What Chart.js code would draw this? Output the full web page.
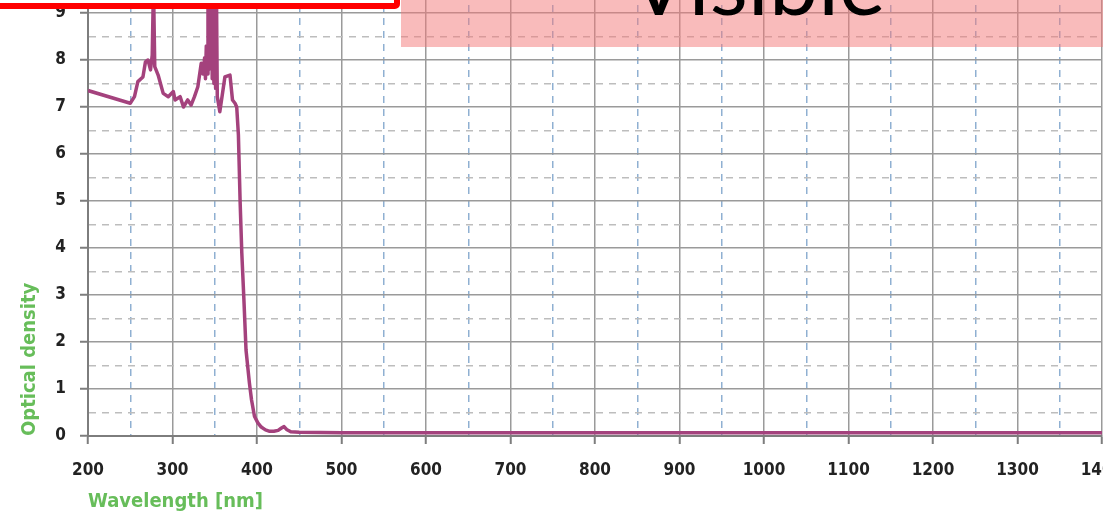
<!DOCTYPE html>
<html lang="en">
  <head>
    <meta charset="utf-8" />
    <title>Optical density</title>
    <style>
      body { margin: 0; width: 1103px; height: 517px; overflow: hidden; position: relative; background: #fff; }
      .chartBox { position: absolute; left: 0; top: -60px; width: 1160px; height: 576px; }
      .redBox { position: absolute; left: -20px; top: -100px; width: 420px; height: 109px; box-sizing: border-box;
        border: 6px solid #ff0000; border-radius: 5px; background: #fff; }
      .pinkBox { position: absolute; left: 401px; top: -10px; width: 720px; height: 57px; background: rgba(243, 119, 119, 0.5); }
      .visible { position: absolute; left: 629px; top: -63px; font: 88px/88px Lato, sans-serif; color: #000; white-space: nowrap; }
    </style>
  </head>
  <body>
    <div class="chartBox">
      <canvas id="myChart"></canvas>
    </div>
    <div class="redBox"></div>
    <div class="pinkBox"></div>
    <div class="visible">Visible</div>
    <script src="https://cdn.jsdelivr.net/npm/chart.js"></script>
    <script>
      // values
      const wavelength = [
        200, 250, 255, 259, 265, 268, 271, 274, 276, 277.5, 279, 283, 289, 295, 301, 303, 309, 313, 318, 322, 326, 330, 334,
        336, 338, 339, 340, 341, 342, 343, 344, 345, 346, 347, 348, 349, 350, 351, 352, 353, 356, 362, 368, 371, 374, 376,
        378, 380, 382, 384.5, 387, 391, 393.5, 397, 401, 405, 410, 415, 420, 425, 429, 432, 435, 440, 450, 500, 600, 700,
        800, 900, 1000, 1100, 1200, 1300, 1400,
      ];
      const opticalDensity = [
        7.35, 7.08, 7.22, 7.54, 7.64, 7.96, 8.0, 7.79, 8.1, 9.6, 7.86, 7.68, 7.29, 7.22, 7.33, 7.15, 7.22, 7.0, 7.15, 7.04, 7.22, 7.43, 7.93,
        7.7, 8.05, 7.6, 8.3, 7.7, 9.6, 7.8, 10, 7.9, 10, 7.6, 10, 7.5, 10, 7.4, 9.5, 7.22, 6.9, 7.64, 7.68, 7.15, 7.08, 7.0,
        6.4, 5.0, 3.9, 2.9, 1.83, 1.13, 0.77, 0.42, 0.28, 0.19, 0.13, 0.1, 0.1, 0.12, 0.17, 0.2, 0.14, 0.09, 0.08, 0.07, 0.07, 0.07,
        0.07, 0.07, 0.07, 0.07, 0.07, 0.07, 0.07,
      ];
      const xMin = 200, xMax = 1400;
      const yMin = 0, yMax = 10;
      const xTitle = "Wavelength [nm]";
      const yTitle = "Optical density";

      const points = wavelength.map((w, i) => ({ x: w, y: opticalDensity[i] }));

      const tickFont = { family: "'DejaVu Sans Condensed', 'Liberation Sans Narrow', sans-serif", size: 17, weight: "bold" };
      const titleFont = { family: "'DejaVu Sans Condensed', 'Liberation Sans Narrow', sans-serif", size: 20, weight: "bold" };
      const green = "#67bd5a";
      const solid = "#9a9a9a";
      const axisCol = "#7d7d7d";

      const isMajorX = (v) => v % 100 === 0;
      const isMajorY = (v) => Number.isInteger(v);

      const config = {
        type: "line",
        data: {
          datasets: [
            {
              data: points,
              borderColor: "#a4427d",
              borderWidth: 3.5,
              pointRadius: 0,
              tension: 0,
              borderJoinStyle: "round",
            },
          ],
        },
        options: {
          responsive: true,
          maintainAspectRatio: false,
          animation: false,
          layout: { padding: { left: 0, right: 58, top: 26, bottom: 0 } },
          plugins: { legend: { display: false }, tooltip: { enabled: false } },
          scales: {
            x: {
              type: "linear",
              min: xMin,
              max: xMax,
              afterFit: (s) => { s.height = 80; },
              ticks: {
                stepSize: 50,
                autoSkip: false,
                maxRotation: 0,
                padding: 16,
                color: "#222",
                font: tickFont,
                callback: (v) => (isMajorX(v) ? String(v) : ""),
              },
              grid: {
                color: (c) => (c.tick && !isMajorX(c.tick.value) ? "#8fb0d2" : solid),
                lineWidth: 1.5,
                tickLength: 8,
                tickColor: (c) => (c.tick && isMajorX(c.tick.value) ? axisCol : "rgba(0,0,0,0)"),
                tickWidth: 2,
              },
              border: {
                color: axisCol,
                width: 2,
                dash: (c) => (c.tick && !isMajorX(c.tick.value) ? [7, 6] : []),
              },
              title: {
                display: true,
                text: xTitle,
                align: "start",
                color: green,
                font: titleFont,
                padding: { top: 0, bottom: 2 },
              },
            },
            y: {
              min: yMin,
              max: yMax,
              afterFit: (s) => { s.width = 88; },
              ticks: {
                stepSize: 0.5,
                autoSkip: false,
                padding: 14,
                color: "#222",
                font: tickFont,
                callback: (v) => (isMajorY(v) ? String(v) : ""),
              },
              grid: {
                color: (c) => (c.tick && !isMajorY(c.tick.value) ? "#bdbdbd" : solid),
                lineWidth: 1.5,
                tickLength: 8,
                tickColor: (c) => (c.tick && isMajorY(c.tick.value) ? axisCol : "rgba(0,0,0,0)"),
                tickWidth: 2,
              },
              border: {
                color: axisCol,
                width: 2,
                dash: (c) => (c.tick && !isMajorY(c.tick.value) ? [7, 6] : []),
              },
              title: {
                display: true,
                text: yTitle,
                align: "start",
                color: green,
                font: titleFont,
                padding: { top: 18, bottom: 0 },
              },
            },
          },
        },
      };
      const myChart = new Chart(document.getElementById("myChart"), config);
    </script>
  </body>
</html>
